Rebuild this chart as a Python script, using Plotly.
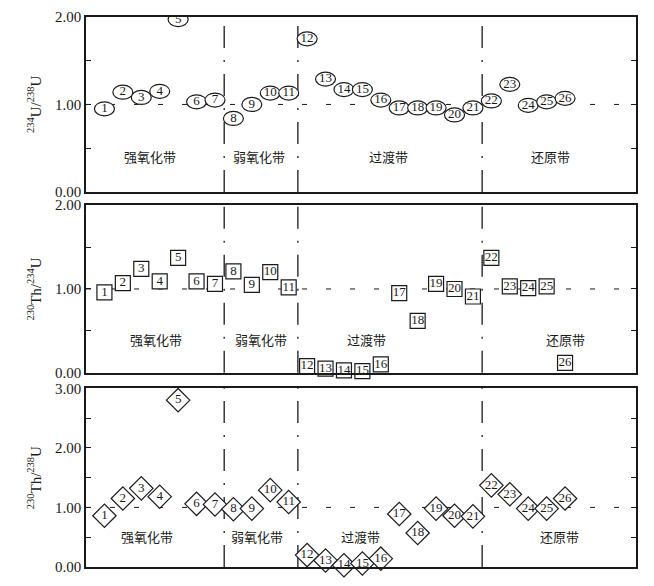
import plotly.graph_objects as go

# sample numbers along the profile
samples = list(range(1, 27))

# 234U/238U
u234_u238 = [0.95, 1.14, 1.08, 1.15, 1.97, 1.03, 1.05, 0.84, 1.00, 1.13, 1.13, 1.75, 1.29,
             1.17, 1.17, 1.05, 0.96, 0.96, 0.96, 0.88, 0.96, 1.04, 1.23, 0.99, 1.03, 1.07]
# 230Th/234U
th230_u234 = [0.96, 1.07, 1.24, 1.09, 1.37, 1.09, 1.06, 1.21, 1.05, 1.20, 1.02, 0.08, 0.05,
              0.03, 0.02, 0.10, 0.95, 0.62, 1.06, 1.00, 0.91, 1.37, 1.03, 1.01, 1.03, 0.12]
# 230Th/238U
th230_u238 = [0.86, 1.15, 1.32, 1.18, 2.80, 1.06, 1.05, 0.97, 0.98, 1.29, 1.09, 0.20, 0.11,
              0.03, 0.06, 0.14, 0.89, 0.57, 0.98, 0.86, 0.85, 1.37, 1.22, 0.98, 0.98, 1.15]

zones = ['强氧化带', '弱氧化带', '过渡带', '还原带']
zone_x = [[3.5, 9.4, 16.4, 25.2],
          [3.8, 9.5, 15.2, 26.0],
          [3.3, 9.3, 14.9, 25.7]]
zone_y = [0.40, 0.40, 0.52]
boundaries = [7.5, 11.5, 21.5]

y_titles = ['<sup>234</sup>U/<sup>238</sup>U',
            '<sup>230</sup>Th/<sup>234</sup>U',
            '<sup>230</sup>Th/<sup>238</sup>U']
y_ranges = [[0, 2], [0, 2], [0, 3]]
y_ticks = [[0, 0.5, 1, 1.5, 2], [0, 0.5, 1, 1.5, 2], [0, 0.5, 1, 1.5, 2, 2.5, 3]]
y_ticktext = [['0.00', '', '1.00', '', '2.00'],
              ['0.00', '', '1.00', '', '2.00'],
              ['0.00', '', '1.00', '', '2.00', '', '3.00']]
domains = [[0.682, 1.0], [0.353, 0.658], [0.0, 0.325]]

serif = 'Liberation Serif, Times New Roman, serif'
cjk = 'Noto Sans CJK SC'
ink = '#1a1a1a'

fig = go.Figure()
shapes = []
annotations = []

for k in range(3):
    xr = 'x' if k == 0 else f'x{k + 1}'
    yr = 'y' if k == 0 else f'y{k + 1}'
    # reference line at 1.0
    shapes.append(dict(type='line', xref=f'{xr} domain', yref=yr, x0=0, x1=1, y0=1, y1=1,
                       line=dict(color=ink, width=1, dash='5px,19px'), layer='below'))
    # zone boundaries
    for b in boundaries:
        shapes.append(dict(type='line', xref=xr, yref=f'{yr} domain', x0=b, x1=b, y0=0, y1=1,
                           line=dict(color=ink, width=1.3, dash='22px,12px,2px,12px'),
                           layer='below'))
    for name, zx in zip(zones, zone_x[k]):
        annotations.append(dict(x=zx, y=zone_y[k], xref=xr, yref=yr, text=name,
                                showarrow=False, font=dict(family=cjk, size=13, color=ink)))

# panel 1: numbers in ellipses
for s, v in zip(samples, u234_u238):
    shapes.append(dict(type='circle', xref='x', yref='y', xsizemode='pixel', ysizemode='pixel',
                       xanchor=s, yanchor=v, x0=-10, x1=10, y0=-7, y1=7,
                       fillcolor='white', line=dict(color=ink, width=1.2), layer='below'))
fig.add_trace(go.Scatter(x=samples, y=u234_u238, mode='text', text=[str(s) for s in samples],
                         textfont=dict(family=serif, size=13, color=ink),
                         cliponaxis=False, xaxis='x', yaxis='y', hoverinfo='skip'))

# panel 2: numbers in squares
fig.add_trace(go.Scatter(x=samples, y=th230_u234, mode='markers+text',
                         text=[str(s) for s in samples], textposition='middle center',
                         marker=dict(symbol='square', size=15, color='white',
                                     line=dict(color=ink, width=1.2)),
                         textfont=dict(family=serif, size=13, color=ink),
                         cliponaxis=False, xaxis='x2', yaxis='y2', hoverinfo='skip'))

# panel 3: numbers in diamonds
fig.add_trace(go.Scatter(x=samples, y=th230_u238, mode='markers+text',
                         text=[str(s) for s in samples], textposition='middle center',
                         marker=dict(symbol='diamond', size=18, color='white',
                                     line=dict(color=ink, width=1.2)),
                         textfont=dict(family=serif, size=13, color=ink),
                         cliponaxis=False, xaxis='x3', yaxis='y3', hoverinfo='skip'))

# page body adds an 8px offset, so the figure is a bit smaller than the window
layout = dict(width=646, height=578, showlegend=False,
              margin=dict(l=78, r=18, t=9, b=19),
              paper_bgcolor='white', plot_bgcolor='white',
              shapes=shapes, annotations=annotations)

for k in range(3):
    sx = '' if k == 0 else str(k + 1)
    layout[f'xaxis{sx}'] = dict(domain=[0, 1], anchor=f'y{sx}', range=[0, 29.85],
                                showline=True, mirror=True, linecolor=ink, linewidth=1.5,
                                showticklabels=False, ticks='', showgrid=False, zeroline=False,
                                automargin=False)
    layout[f'yaxis{sx}'] = dict(domain=domains[k], anchor=f'x{sx}', range=y_ranges[k],
                                tickvals=y_ticks[k], ticktext=y_ticktext[k],
                                ticks='inside', ticklen=5, tickcolor=ink,
                                showline=True, mirror='ticks', linecolor=ink, linewidth=1.5,
                                showgrid=False, zeroline=False, automargin=False,
                                tickfont=dict(family=serif, size=15, color=ink),
                                title=dict(text=y_titles[k], standoff=10,
                                           font=dict(family=serif, size=15, color=ink)))

fig.update_layout(**layout)
fig.write_html('out.html')
